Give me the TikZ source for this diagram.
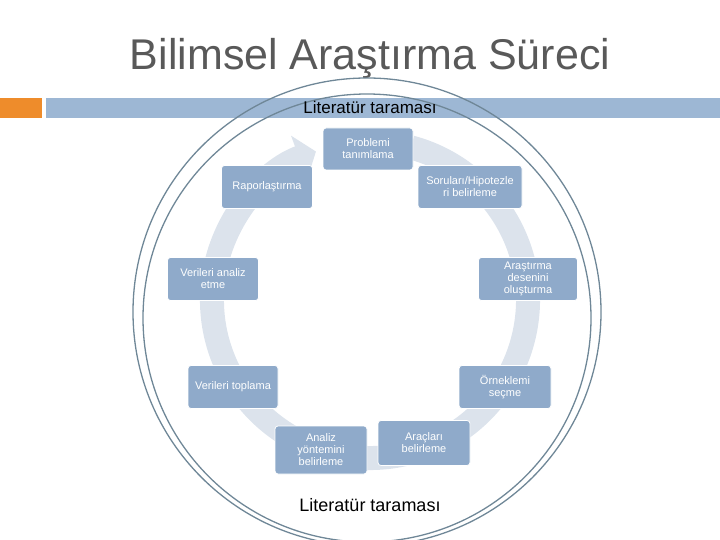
\documentclass[tikz,border=0pt]{standalone}
\usepackage{fontspec}
\setmainfont{Liberation Sans}
\usetikzlibrary{arrows.meta}
\definecolor{boxc}{HTML}{8FAACA}
\definecolor{ringc}{HTML}{DCE3EC}
\definecolor{barc}{HTML}{9DB7D4}
\definecolor{linec}{HTML}{6F8797}
\tikzset{x=1pt,y=-1pt,
 stepbox/.style={draw=white,line width=0.8pt,fill=boxc,rounded corners=3pt,text=white,align=center,font=\fontsize{11}{12}\selectfont,inner sep=2pt}}
\begin{document}
\begin{tikzpicture}
\useasboundingbox (0,0) rectangle (720,540);
\node[text=black!65,font=\fontsize{43}{46}\selectfont] (title) at (370,58) {Bilimsel Araştırma Süreci};
\fill[orange!70!brown!90] (0,98) rectangle (42,118);
\fill[barc] (46,98) rectangle (720,118);
% circles
\draw[linec,line width=1.3pt] (367,312) circle (234);
\draw[linec,line width=1.3pt] (367,318) circle (224);
% ring arrow
\draw[ringc,line width=24pt,-{Triangle[length=18pt 0 0,width=46pt 0 0]}] (370,300) ++(-75:158) arc[start angle=-75,end angle=250,radius=158];
\node[font=\fontsize{17}{19}\selectfont] (lit1) at (370,107) {Literatür taraması};
\node[stepbox,minimum width=90pt,minimum height=42pt] (p1) at (368,149) {Problemi\\tanımlama};
\node[stepbox,minimum width=104pt,minimum height=43pt] (p2) at (470,187) {Soruları/Hipotezle\\ri belirleme};
\node[stepbox,minimum width=99pt,minimum height=43pt] (p3) at (528,279) {Araştırma\\desenini\\oluşturma};
\node[stepbox,minimum width=92pt,minimum height=43pt] (p4) at (505,387) {Örneklemi\\seçme};
\node[stepbox,minimum width=92pt,minimum height=45pt] (p5) at (424,443) {Araçları\\belirleme};
\node[stepbox,minimum width=92pt,minimum height=48pt] (p6) at (321,450) {Analiz\\yöntemini\\belirleme};
\node[stepbox,minimum width=90pt,minimum height=43pt] (p7) at (233,387) {Verileri toplama};
\node[stepbox,minimum width=91pt,minimum height=43pt] (p8) at (213,279) {Verileri analiz\\etme};
\node[stepbox,minimum width=91pt,minimum height=43pt] (p9) at (267,187) {Raporlaştırma};
\node[font=\fontsize{18}{20}\selectfont,fill=white,inner sep=1pt] (lit2) at (370,505) {Literatür taraması};
\end{tikzpicture}
\end{document}
